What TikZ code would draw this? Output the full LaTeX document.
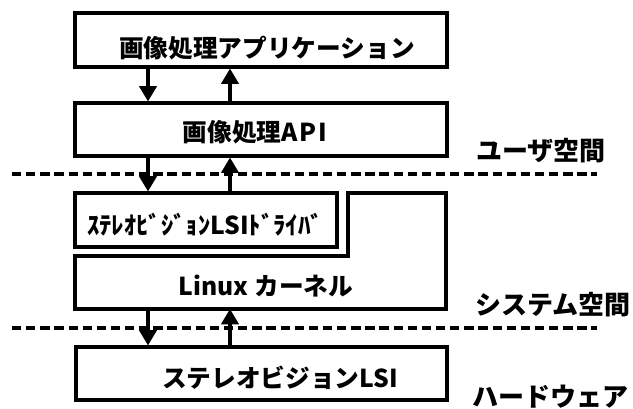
\documentclass[tikz,border=0pt]{standalone}
\usepackage{fontspec}
\newfontfamily\jp{Noto Sans CJK JP}
\usetikzlibrary{arrows.meta}
\begin{document}
\begin{tikzpicture}[x=0.75pt,y=-0.75pt,
  box/.style={draw, line width=2.4pt, rectangle, inner sep=0pt},
  lbl/.style={font=\jp\bfseries\fontsize{18.5pt}{20pt}\selectfont, inner sep=0pt},
  side/.style={font=\jp\bfseries\fontsize{19.5pt}{21pt}\selectfont, inner sep=0pt},
  flow/.style={line width=2.4pt, -{Triangle[length=11.5pt,width=13pt]}},
  sep/.style={line width=2.3pt, dash pattern=on 7pt off 3.6pt}]
\useasboundingbox (0,0) rectangle (633,409);
% boxes
\node[box, minimum width=279pt, minimum height=40.5pt] (app) at (261,40) {};
\node[box, minimum width=279pt, minimum height=39.75pt] (api) at (261,129.5) {};
\node[box, minimum width=196.5pt, minimum height=40.5pt] (drv) at (206,220) {};
\node[box, minimum width=278.25pt, minimum height=39.75pt] (lsi) at (261.5,373.5) {};
% kernel (L-shaped)
\draw[line width=2.4pt] (75,256) -- (348,256) -- (348,193) -- (446,193) -- (446,309) -- (75,309) -- cycle;
\coordinate (kb) at (261,309);
% texts
\node[lbl] (tapp) at (267,48) {画像処理アプリケーション};
\node[lbl] (tapi) at (255,132) {画像処理A\kern1.5pt P\kern1.5pt I};
\node[lbl] (tdrv) at (205,225) {ｽﾃﾚｵﾋﾞｼﾞｮﾝLSIﾄﾞﾗｲﾊﾞ};
\node[lbl] (tker) at (266,286) {Linux カーネル};
\node[lbl] (tlsi) at (280,378) {ステレオビジョンLSI};
\node[side] (u) at (541,151) {ユーザ空間};
\node[side] (s) at (553,305) {システム空間};
\node[side] (h) at (550,397) {ハードウェア};
% separators
\coordinate (d1a) at (12,174); \coordinate (d1b) at (597,174);
\coordinate (d2a) at (12,328); \coordinate (d2b) at (597,328);
\draw[sep] (d1a) -- (d1b);
\draw[sep] (d2a) -- (d2b);
% arrows
\draw[flow] (app.south -| 148,0) -- (api.north -| 148,0);
\draw[flow] (api.north -| 230,0) -- (app.south -| 230,0);
\draw[flow] (api.south -| 148,0) -- (drv.north -| 148,0);
\draw[flow] (drv.north -| 230,0) -- (api.south -| 230,0);
\draw[flow] (kb -| 148,0) -- (lsi.north -| 148,0);
\draw[flow] (lsi.north -| 230,0) -- (kb -| 230,0);
\end{tikzpicture}
\end{document}
